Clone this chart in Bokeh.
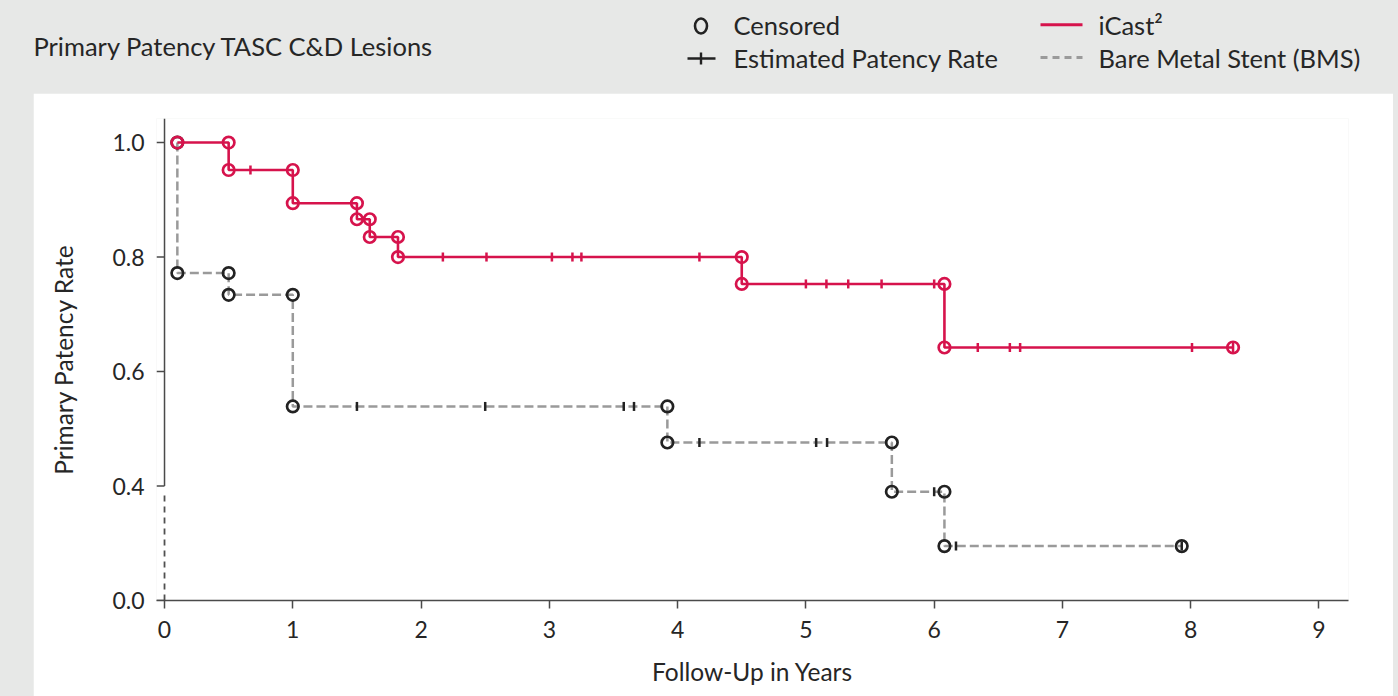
import numpy as np
from bokeh.plotting import figure
from bokeh.models import Range1d, FixedTicker, Spacer
from bokeh.layouts import column, row
from bokeh.core.properties import value
from bokeh.embed import file_html
from bokeh.resources import INLINE

# ---------------- data ----------------
title_text = "Primary Patency TASC C&D Lesions"
x_label = "Follow-Up in Years"
y_label = "Primary Patency Rate"
x_ticks = [0, 1, 2, 3, 4, 5, 6, 7, 8, 9]
y_ticks = [0.0, 0.4, 0.6, 0.8, 1.0]
y_tick_labels = ["0.0", "0.4", "0.6", "0.8", "1.0"]

# iCast2
icast_start_t = 0.1
icast_start_level = 1.0
icast_drop_t = [0.5, 1.0, 1.5, 1.6, 1.82, 4.5, 6.08]
icast_levels = [0.952, 0.894, 0.866, 0.835, 0.800, 0.753, 0.642]
icast_end_t = 8.33
icast_censor_t = [0.67, 2.17, 2.51, 3.02, 3.18, 3.25, 4.17, 5.0, 5.16, 5.33,
                  5.59, 6.0, 6.34, 6.59, 6.67, 8.01, 8.33]

# Bare Metal Stent
bms_start_t = 0.1
bms_start_level = 1.0
bms_drop_t = [0.1, 0.5, 1.0, 3.92, 5.67, 6.08]
bms_levels = [0.772, 0.734, 0.539, 0.476, 0.380, 0.19]
bms_end_t = 7.93
bms_censor_t = [1.5, 2.5, 3.58, 3.66, 4.17, 5.08, 5.165, 6.0, 6.17, 7.93]

legend_labels = ["Censored", "Estimated Patency Rate", "iCast\u00b2", "Bare Metal Stent (BMS)"]

# ---------------- styles ----------------
RED = "#d6134c"
GRAY = "#9a9a9a"
DARK = "#222222"
AXIS = "#4a4a4a"
BG = "#e7e8e7"
FONT = "Lato"
TXT = "#262626"
X0 = -0.0625  # frame starts a little left of 0 so the axis lines overhang

# axis break: values below 0.4 are compressed (0.0..0.4 shown in one 0.2 step)
def disp(y):
    y = np.asarray(y, dtype=float)
    return np.where(y >= 0.4, y, 0.2 + 0.5 * y)

def step_path(start_t, start_level, drop_t, levels, end_t):
    xs = [start_t] + list(drop_t) + [end_t]
    ys = [start_level] + list(levels) + [levels[-1]]
    return xs, ys

def circle_points(start_t, start_level, drop_t, levels, end_t):
    cx, cy = [start_t], [start_level]
    prev = start_level
    for t, l in zip(drop_t, levels):
        cx += [t, t]
        cy += [prev, l]
        prev = l
    cx.append(end_t)
    cy.append(levels[-1])
    return cx, cy

def level_at(ts, start_level, drop_t, levels):
    out = []
    for t in ts:
        idx = int(np.searchsorted(drop_t, t, side="right"))
        out.append(start_level if idx == 0 else levels[idx - 1])
    return out

# ---------------- header ----------------
HW, HH = 1398, 93
header = figure(width=HW, height=HH, x_range=Range1d(0, HW), y_range=Range1d(HH, 0),
                x_axis_type=None, y_axis_type=None, toolbar_location=None,
                output_backend="svg", min_border=0, outline_line_color=None,
                background_fill_color=BG, border_fill_color=BG)
header.xgrid.visible = False
header.ygrid.visible = False

header.text(x=[33], y=[45], text=[title_text], text_font=value(FONT),
            text_font_size="25.5px", text_color=TXT,
            text_align="left", text_baseline="middle")

# legend symbols
header.ellipse(x=[700.5], y=[25.5], width=12, height=15, fill_color=None,
               line_color=DARK, line_width=2.6)
header.segment(x0=[687], y0=[58], x1=[715], y1=[58], line_color=DARK, line_width=2.4)
header.segment(x0=[700.5], y0=[52], x1=[700.5], y1=[64], line_color=DARK, line_width=2.4)
header.segment(x0=[1040], y0=[24.3], x1=[1082], y1=[24.3], line_color=RED, line_width=3)
header.segment(x0=[1040], y0=[57], x1=[1082], y1=[57], line_color=GRAY, line_width=3,
               line_dash="7 5")
header.text(x=[733, 733, 1098, 1098], y=[24, 57.5, 24, 57.5], text=legend_labels,
            text_font=value(FONT), text_font_size="25.5px", text_color=TXT,
            text_align="left", text_baseline="middle")

# ---------------- main plot ----------------
W, H = 1360, 603
p = figure(width=W, height=H, x_range=Range1d(X0, 9.23), y_range=Range1d(0.2, 1.042),
           toolbar_location=None, output_backend="svg",
           min_border_left=123, min_border_right=45, min_border_top=25,
           min_border_bottom=96, outline_line_color=None,
           background_fill_color="white", border_fill_color="white")
p.xgrid.visible = False
p.ygrid.visible = False

# axes
p.xaxis.ticker = FixedTicker(ticks=x_ticks)
p.yaxis.ticker = FixedTicker(ticks=list(disp(y_ticks)))
p.yaxis.major_label_overrides = {float(d): lab for d, lab in zip(disp(y_ticks), y_tick_labels)}
for ax in (p.xaxis[0], p.yaxis[0]):
    ax.major_tick_in = 0
    ax.minor_tick_line_color = None
    ax.major_tick_line_color = AXIS
    ax.major_tick_line_width = 1.5
    ax.major_label_text_font = FONT
    ax.major_label_text_font_size = "23px"
    ax.major_label_text_color = TXT
    ax.major_label_standoff = 12
    ax.axis_label_text_font = FONT
    ax.axis_label_text_font_size = "24.5px"
    ax.axis_label_text_font_style = "normal"
    ax.axis_label_text_color = TXT
p.xaxis.major_tick_out = 8
p.xaxis.axis_label = x_label
p.yaxis.axis_label = y_label
p.xaxis.axis_line_color = AXIS
p.xaxis.axis_line_width = 1.5
p.xaxis.axis_label_standoff = 16
p.yaxis.major_tick_out = 0
p.yaxis.major_tick_line_color = None
p.yaxis.axis_line_color = None
p.yaxis.major_label_standoff = 12
p.yaxis.axis_label_standoff = 31

# y axis drawn at x = 0: ticks, solid line above the break, dashed across it
yt = list(disp(y_ticks))
p.segment(x0=[X0] * len(yt), y0=yt, x1=[0] * len(yt), y1=yt, line_color=AXIS, line_width=1.5)
p.segment(x0=[0], y0=[0.4], x1=[0], y1=[1.042], line_color=AXIS, line_width=1.5)
p.segment(x0=[0], y0=[0.2], x1=[0], y1=[0.385], line_color="#505050", line_width=1.8,
          line_dash="6 5")

# BMS
bx, by = step_path(bms_start_t, bms_start_level, bms_drop_t, bms_levels, bms_end_t)
p.step(bx, list(disp(by)), mode="after", line_color=GRAY, line_width=2.5, line_dash="9 4")
bcx, bcy = circle_points(bms_start_t, bms_start_level, bms_drop_t, bms_levels, bms_end_t)
bty = level_at(bms_censor_t, bms_start_level, bms_drop_t, bms_levels)
p.scatter(bms_censor_t, list(disp(bty)), marker="dash", angle=np.pi / 2, size=9,
          line_color=DARK, line_width=2.5)
p.scatter(bcx[1:], list(disp(bcy[1:])), marker="circle", size=11.5, fill_color=None,
          line_color=DARK, line_width=2.7)

# iCast2
ix, iy = step_path(icast_start_t, icast_start_level, icast_drop_t, icast_levels, icast_end_t)
p.step(ix, list(disp(iy)), mode="after", line_color=RED, line_width=2.6)
ity = level_at(icast_censor_t, icast_start_level, icast_drop_t, icast_levels)
p.scatter(icast_censor_t, list(disp(ity)), marker="dash", angle=np.pi / 2, size=9,
          line_color=RED, line_width=2.5)
icx, icy = circle_points(icast_start_t, icast_start_level, icast_drop_t, icast_levels, icast_end_t)
p.scatter(icx, list(disp(icy)), marker="circle", size=11.5, fill_color=None,
          line_color=RED, line_width=2.7)

layout = column(header, row(Spacer(width=33, height=H), p))

html = file_html(layout, INLINE)
html = html.replace("</head>",
                    "<style>html,body{background:%s;margin:0;padding:0;overflow:hidden;}</style></head>" % BG, 1)
open("out.html", "w").write(html)
